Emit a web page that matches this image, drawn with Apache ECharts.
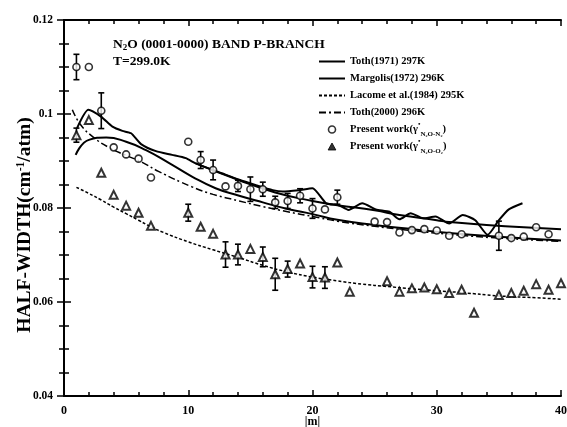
<!DOCTYPE html>
<html>
<head>
<meta charset="utf-8">
<script src="https://cdn.jsdelivr.net/npm/echarts@6/dist/echarts.min.js"></script>
<style>
  html, body { margin: 0; padding: 0; background: #fff; }
  #chart { width: 567px; height: 427px; }
</style>
</head>
<body>
<div id="chart"></div>
<script>
// N2-broadened half-widths (present work), |m| and value, with error (0 = none)
const n2M   = [1, 2, 3, 4, 5, 6, 7, 10, 11, 12, 13, 14, 15, 16, 17, 18, 19, 20, 21, 22, 25, 26, 27, 28, 29, 30, 31, 32, 35, 36, 37, 38, 39];
const n2W   = [0.1100, 0.1100, 0.1007, 0.0929, 0.0914, 0.0905, 0.0865, 0.0941, 0.0902, 0.0881, 0.0846, 0.0847, 0.0840, 0.0840, 0.0812, 0.0815, 0.0826, 0.0799, 0.0797, 0.0823, 0.0771, 0.0770, 0.0748, 0.0753, 0.0755, 0.0752, 0.0741, 0.0744, 0.0741, 0.0736, 0.0739, 0.0759, 0.0744];
const n2Err = [0.0027, 0, 0.0038, 0, 0, 0, 0, 0, 0.0018, 0.0021, 0, 0.0012, 0.0026, 0.0015, 0.0013, 0.0016, 0.0015, 0.0021, 0, 0.0015, 0, 0, 0, 0, 0, 0, 0, 0, 0.0031, 0, 0, 0, 0];

// O2-broadened half-widths (present work)
const o2M   = [1, 2, 3, 4, 5, 6, 7, 10, 11, 12, 13, 14, 15, 16, 17, 18, 19, 20, 21, 22, 23, 26, 27, 28, 29, 30, 31, 32, 33, 35, 36, 37, 38, 39, 40];
const o2W   = [0.0955, 0.0987, 0.0875, 0.0828, 0.0805, 0.0790, 0.0762, 0.0790, 0.0760, 0.0745, 0.0701, 0.0701, 0.0713, 0.0696, 0.0659, 0.0670, 0.0682, 0.0653, 0.0652, 0.0684, 0.0622, 0.0644, 0.0622, 0.0629, 0.0631, 0.0627, 0.0619, 0.0626, 0.0577, 0.0615, 0.0619, 0.0624, 0.0638, 0.0626, 0.0640];
const o2Err = [0.0015, 0, 0, 0, 0, 0, 0, 0.0018, 0, 0, 0.0027, 0.0022, 0, 0.0021, 0.0034, 0.0017, 0, 0.0023, 0.0023, 0, 0, 0, 0, 0, 0, 0, 0, 0, 0, 0, 0, 0, 0, 0, 0];

// Toth (1971), 297 K
const toth71M = [1.05, 1.96, 3.0, 3.9, 4.7, 5.4, 6.2, 7.4, 8.7, 9.8, 10.6, 12.7, 14.1, 15.4, 16.8, 17.6, 18.9, 20.0, 21.1, 22.1, 22.9, 24.0, 25.1, 26.2, 27.0, 27.9, 28.9, 29.9, 31.0, 32.1, 33.1, 34.1, 35.0, 35.8, 36.9];
const toth71W = [0.0970, 0.1009, 0.0994, 0.0973, 0.0964, 0.0959, 0.0936, 0.0921, 0.0913, 0.0906, 0.0895, 0.0874, 0.0860, 0.0849, 0.0838, 0.0835, 0.0838, 0.0842, 0.0810, 0.0806, 0.0796, 0.0810, 0.0797, 0.0792, 0.0776, 0.0789, 0.0778, 0.0782, 0.0767, 0.0785, 0.0774, 0.0743, 0.0774, 0.0797, 0.0810];

// Smooth solid trend running under the Toth (1971) values
const trendM = [10.6, 14, 17, 20, 22, 25, 27, 30, 31, 34, 37, 40];
const trendW = [0.0895, 0.0860, 0.0833, 0.0815, 0.0806, 0.0795, 0.0785, 0.0774, 0.0770, 0.0764, 0.0759, 0.0755];

// Margolis (1972), 296 K
const margM = [0.94, 2.0, 3.4, 5.0, 6.6, 8.5, 10.3, 12.2, 14.1, 16, 18, 20, 22, 25, 28, 31, 35, 40];
const margW = [0.0913, 0.0945, 0.0950, 0.0941, 0.0923, 0.0895, 0.0867, 0.0842, 0.0826, 0.0812, 0.0798, 0.0787, 0.0775, 0.0764, 0.0755, 0.0747, 0.0739, 0.0731];

// Lacome et al. (1984), 295 K
const lacM = [1, 2, 3, 4, 5, 6, 7, 8, 10, 12, 14, 16, 18, 20, 22, 24, 26, 28, 30, 32, 35, 38, 40];
const lacW = [0.0844, 0.0831, 0.0817, 0.0802, 0.0788, 0.0774, 0.0760, 0.0748, 0.0728, 0.0711, 0.0695, 0.0678, 0.0664, 0.0653, 0.0645, 0.0638, 0.0633, 0.0628, 0.0624, 0.0620, 0.0613, 0.0609, 0.0606];

// Toth (2000), 296 K
const toth00M = [0.67, 1.34, 2.3, 3.6, 5.0, 6.3, 7.6, 10.3, 12, 14.1, 16, 18, 20, 22, 25, 28, 31, 35, 40];
const toth00W = [0.1009, 0.0977, 0.0952, 0.0929, 0.0912, 0.0897, 0.0878, 0.0845, 0.0829, 0.0815, 0.0803, 0.0792, 0.0782, 0.0772, 0.0761, 0.0752, 0.0744, 0.0736, 0.0729];

const FONT = '"Liberation Serif", "Times New Roman", serif';

const zip = (a, b) => a.map((v, i) => [v, b[i]]);
const withErr = (m, w, e) => m.map((v, i) => [v, w[i], e[i]]).filter(d => d[2] > 0);

function errorBar(params, api) {
  const x = api.value(0), y = api.value(1), e = api.value(2);
  const hi = api.coord([x, y + e]);
  const lo = api.coord([x, y - e]);
  const cap = 3;
  const st = { stroke: '#000', lineWidth: 1.6 };
  return {
    type: 'group',
    children: [
      { type: 'line', shape: { x1: hi[0], y1: hi[1], x2: lo[0], y2: lo[1] }, style: st },
      { type: 'line', shape: { x1: hi[0] - cap, y1: hi[1], x2: hi[0] + cap, y2: hi[1] }, style: st },
      { type: 'line', shape: { x1: lo[0] - cap, y1: lo[1], x2: lo[0] + cap, y2: lo[1] }, style: st }
    ]
  };
}

const NAME_T71 = 'Toth(1971) 297K';
const NAME_MAR = 'Margolis(1972) 296K';
const NAME_LAC = 'Lacome et al.(1984) 295K';
const NAME_T00 = 'Toth(2000) 296K';
const NAME_N2 = 'Present work N2';
const NAME_O2 = 'Present work O2';

const legendText = {
  [NAME_T71]: '{t|Toth(1971) 297K}',
  [NAME_MAR]: '{t|Margolis(1972) 296K}',
  [NAME_LAC]: '{t|Lacome et al.(1984) 295K}',
  [NAME_T00]: '{t|Toth(2000) 296K}',
  [NAME_N2]: '{t|Present work(γ}{sup|•}{sub|N₂O-N₂}{t|)}',
  [NAME_O2]: '{t|Present work(γ}{sup|•}{sub|N₂O-O₂}{t|)}'
};

const chart = echarts.init(document.getElementById('chart'), null, { renderer: 'canvas' });

const axisLine = { show: true, lineStyle: { color: '#000', width: 2 } };
const hiddenMarker = { opacity: 0 };

chart.setOption({
  backgroundColor: '#fff',
  animation: false,
  textStyle: { fontFamily: FONT },
  title: [
    {
      text: 'N{sub|2}O (0001-0000) BAND P-BRANCH',
      left: 108, top: 33,
      textStyle: {
        fontFamily: FONT, fontWeight: 'bold', fontSize: 13.5, color: '#000',
        rich: { sub: { fontFamily: FONT, fontWeight: 'bold', fontSize: 9, verticalAlign: 'bottom', color: '#000' } }
      }
    },
    {
      text: 'T=299.0K',
      left: 108, top: 50,
      textStyle: { fontFamily: FONT, fontWeight: 'bold', fontSize: 13.5, color: '#000' }
    }
  ],
  legend: {
    orient: 'vertical',
    left: 313, top: 48,
    itemWidth: 26, itemHeight: 7, itemGap: 0,
    selectedMode: false,
    data: [
      { name: NAME_T71, itemStyle: hiddenMarker },
      { name: NAME_MAR, itemStyle: hiddenMarker },
      { name: NAME_LAC, itemStyle: hiddenMarker },
      { name: NAME_T00, itemStyle: hiddenMarker },
      { name: NAME_N2, icon: 'circle', itemStyle: { color: '#fff', borderColor: '#000', borderWidth: 1.6 } },
      { name: NAME_O2, icon: 'path://M5,0 L10,9 L0,9 Z', itemStyle: { color: '#000', borderColor: '#000', borderWidth: 1 } }
    ],
    formatter: name => legendText[name],
    textStyle: {
      color: '#000', fontFamily: FONT, fontWeight: 'bold', fontSize: 10.5, lineHeight: 17,
      rich: {
        t: { fontFamily: FONT, fontWeight: 'bold', fontSize: 10.5, color: '#000', lineHeight: 17 },
        sub: { fontFamily: FONT, fontWeight: 'bold', fontSize: 7, color: '#000', verticalAlign: 'bottom', lineHeight: 17 },
        sup: { fontFamily: FONT, fontWeight: 'bold', fontSize: 7, color: '#000', verticalAlign: 'top', lineHeight: 17 }
      }
    }
  },
  grid: { left: 64, right: 6, top: 20, bottom: 31, containLabel: false, outerBoundsMode: 'none' },
  xAxis: [
    {
      type: 'value', min: 0, max: 40, interval: 10,
      name: '|m|', nameLocation: 'middle', nameGap: 20, nameMoveOverlap: false,
      nameTextStyle: { fontFamily: FONT, fontWeight: 'bold', fontSize: 12, color: '#000' },
      axisLine: axisLine,
      axisTick: { inside: true, length: 6, lineStyle: { color: '#000', width: 1.5 } },
      minorTick: { show: true, splitNumber: 5, length: 4, lineStyle: { color: '#000', width: 1.5 } },
      axisLabel: { fontFamily: FONT, fontWeight: 'bold', fontSize: 12, color: '#000', margin: 9 },
      splitLine: { show: false }
    },
    {
      type: 'value', min: 0, max: 40, interval: 10, position: 'top',
      axisLine: axisLine,
      axisTick: { inside: true, length: 6, lineStyle: { color: '#000', width: 1.5 } },
      minorTick: { show: true, splitNumber: 5, length: 4, lineStyle: { color: '#000', width: 1.5 } },
      axisLabel: { show: false },
      splitLine: { show: false }
    }
  ],
  yAxis: [
    {
      type: 'value', min: 0.04, max: 0.12, interval: 0.02,
      name: 'HALF-WIDTH(cm{sup|-1}/atm)', nameLocation: 'middle', nameGap: 29, nameRotate: 90, nameMoveOverlap: false,
      nameTextStyle: {
        fontFamily: FONT, fontWeight: 'bold', fontSize: 19.5, color: '#000',
        padding: [0, 34, 0, 0],
        rich: { sup: { fontFamily: FONT, fontWeight: 'bold', fontSize: 11.5, color: '#000', verticalAlign: 'top' } }
      },
      axisLine: axisLine,
      axisTick: { inside: true, length: 7, lineStyle: { color: '#000', width: 1.5 } },
      minorTick: { show: true, splitNumber: 4, length: 5, lineStyle: { color: '#000', width: 1.5 } },
      axisLabel: {
        fontFamily: FONT, fontWeight: 'bold', fontSize: 11.5, color: '#000', margin: 11,
        formatter: v => String(Math.round(v * 100) / 100)
      },
      splitLine: { show: false }
    },
    {
      type: 'value', min: 0.04, max: 0.12, interval: 0.02, position: 'right',
      axisLine: axisLine,
      axisTick: { inside: true, length: 7, lineStyle: { color: '#000', width: 1.5 } },
      minorTick: { show: true, splitNumber: 4, length: 5, lineStyle: { color: '#000', width: 1.5 } },
      axisLabel: { show: false },
      splitLine: { show: false }
    }
  ],
  series: [
    {
      name: NAME_T71, type: 'line', data: zip(toth71M, toth71W),
      showSymbol: false, symbol: 'none', smooth: 0.2,
      lineStyle: { color: '#000', width: 2 }, itemStyle: { color: '#000' }, z: 2
    },
    {
      name: 'trend', type: 'line', data: zip(trendM, trendW),
      showSymbol: false, symbol: 'none', smooth: true,
      lineStyle: { color: '#000', width: 2 }, itemStyle: { color: '#000' }, z: 2
    },
    {
      name: NAME_MAR, type: 'line', data: zip(margM, margW),
      showSymbol: false, symbol: 'none', smooth: true,
      lineStyle: { color: '#000', width: 2 }, itemStyle: { color: '#000' }, z: 2
    },
    {
      name: NAME_LAC, type: 'line', data: zip(lacM, lacW),
      showSymbol: false, symbol: 'none', smooth: true,
      lineStyle: { color: '#000', width: 1.5, type: [3, 2] }, itemStyle: { color: '#000' }, z: 2
    },
    {
      name: NAME_T00, type: 'line', data: zip(toth00M, toth00W),
      showSymbol: false, symbol: 'none', smooth: true,
      lineStyle: { color: '#000', width: 1.5, type: [7, 3, 2, 3] }, itemStyle: { color: '#000' }, z: 2
    },
    {
      name: 'n2-err', type: 'custom', renderItem: errorBar,
      data: withErr(n2M, n2W, n2Err), encode: { x: 0, y: 1 }, z: 3, silent: true
    },
    {
      name: 'o2-err', type: 'custom', renderItem: errorBar,
      data: withErr(o2M, o2W, o2Err), encode: { x: 0, y: 1 }, z: 3, silent: true
    },
    {
      name: NAME_N2, type: 'scatter', data: zip(n2M, n2W),
      symbol: 'circle', symbolSize: 7,
      itemStyle: { color: '#fff', borderColor: '#000', borderWidth: 1.6 }, z: 4
    },
    {
      name: NAME_O2, type: 'scatter', data: zip(o2M, o2W),
      symbol: 'triangle', symbolSize: 8,
      itemStyle: { color: '#fff', borderColor: '#000', borderWidth: 2 }, z: 4
    }
  ]
});
</script>
</body>
</html>
